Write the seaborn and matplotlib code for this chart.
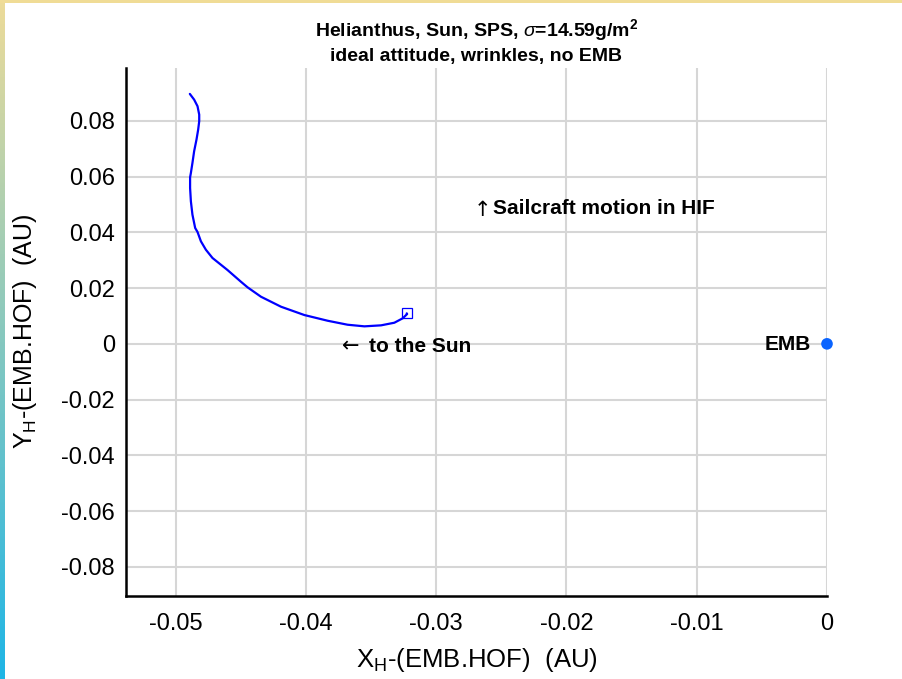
import numpy as np
import pandas as pd
import matplotlib
matplotlib.use("Agg")
import matplotlib.pyplot as plt
import seaborn as sns

# Sailcraft trajectory relative to the Earth-Moon barycentre (AU)
traj_x = [-0.04891, -0.04858, -0.04832, -0.04819, -0.04819, -0.04827, -0.04840,
          -0.04858, -0.04871, -0.04883, -0.04889, -0.04889, -0.04883, -0.04871,
          -0.04850, -0.04832, -0.04806, -0.04768, -0.04717, -0.04602, -0.04499,
          -0.04448, -0.04345, -0.04191, -0.04012, -0.03833, -0.03680, -0.03551,
          -0.03423, -0.03321, -0.03257, -0.03223]
traj_y = [0.08970, 0.08765, 0.08528, 0.08226, 0.07989, 0.07688, 0.07329,
          0.06912, 0.06492, 0.06133, 0.05978, 0.05594, 0.05117, 0.04636,
          0.04158, 0.04014, 0.03680, 0.03379, 0.03081, 0.02650, 0.02230,
          0.02029, 0.01691, 0.01332, 0.01034, 0.00829, 0.00686, 0.00628,
          0.00664, 0.00758, 0.00916, 0.01070]

# final position of the sailcraft
end_x = [-0.03226]
end_y = [0.01095]

emb_x = [0.0]
emb_y = [0.0]

x_ticks = [-0.05, -0.04, -0.03, -0.02, -0.01, 0.0]
x_ticklabels = ["-0.05", "-0.04", "-0.03", "-0.02", "-0.01", "0"]
y_ticks = [-0.08, -0.06, -0.04, -0.02, 0.0, 0.02, 0.04, 0.06, 0.08]
y_ticklabels = ["-0.08", "-0.06", "-0.04", "-0.02", "0", "0.02", "0.04", "0.06", "0.08"]

title_lines = [r"Helianthus, Sun, SPS, $\sigma$=14.59g/m$^\mathbf{2}$",
               "ideal attitude, wrinkles, no EMB"]

sns.set_theme(style="white")
plt.rcParams["font.family"] = ["Liberation Sans", "DejaVu Sans"]
plt.rcParams["axes.unicode_minus"] = False
plt.rcParams["mathtext.fontset"] = "custom"
plt.rcParams["mathtext.rm"] = "Liberation Sans"
plt.rcParams["mathtext.it"] = "Liberation Sans:italic"
plt.rcParams["mathtext.bf"] = "Liberation Sans:bold"
for key in ("text.color", "axes.labelcolor", "xtick.color", "ytick.color"):
    plt.rcParams[key] = "black"

fig = plt.figure(figsize=(9.02, 6.79), dpi=100)
fig.patch.set_facecolor("white")

# decorative frame: gradient strip on the left, thin band on top
strip = fig.add_axes([0, 0, 5 / 902, 1])
grad = np.linspace(0, 1, 256)[:, None]
c_top = np.array([0.93, 0.86, 0.60])
c_bot = np.array([0.12, 0.71, 0.90])
img = (c_top[None, None, :] * (1 - grad[..., None]) + c_bot[None, None, :] * grad[..., None])
strip.imshow(img, aspect="auto", extent=[0, 1, 0, 1])
strip.set_axis_off()
band = fig.add_axes([0, 1 - 3 / 679, 1, 3 / 679])
band.set_facecolor("#f0dc96")
band.set_xticks([]); band.set_yticks([])
for s in band.spines.values():
    s.set_visible(False)

ax = fig.add_axes([126 / 902, 83 / 679, (827 - 126) / 902, (596 - 68) / 679])

traj = pd.DataFrame({"x": traj_x + end_x, "y": traj_y + end_y})
sns.lineplot(data=traj, x="x", y="y", sort=False, estimator=None,
             color="#0000ff", linewidth=1.6, ax=ax, zorder=3)
for line in ax.lines:
    line.set_solid_joinstyle("round")
    line.set_solid_capstyle("round")
ax.plot(end_x, end_y, marker="s", markersize=7, markerfacecolor="none",
        markeredgecolor="#0000ff", markeredgewidth=0.9, linestyle="none", zorder=4)

emb = pd.DataFrame({"x": emb_x, "y": emb_y})
sns.scatterplot(data=emb, x="x", y="y", color="#0a64ff", s=70, edgecolor="none",
                ax=ax, zorder=5, clip_on=False)

ax.set_xlim(-0.05381, 0.0)
ax.set_ylim(-0.0905, 0.0990)
ax.set_xticks(x_ticks)
ax.set_xticklabels(x_ticklabels)
ax.set_yticks(y_ticks)
ax.set_yticklabels(y_ticklabels)

ax.grid(True, color="#d6d6d6", linewidth=1.5)
ax.set_axisbelow(True)
for side in ("top", "right"):
    ax.spines[side].set_visible(False)
for side in ("left", "bottom"):
    ax.spines[side].set_color("black")
    ax.spines[side].set_linewidth(1.8)
ax.tick_params(axis="both", direction="in", length=5, width=1.8, colors="black",
               labelsize=17, pad=8)
ax.tick_params(axis="x", pad=12)

ax.set_xlabel(r"X$_\mathrm{H}$-(EMB.HOF)  (AU)", fontsize=18.5, labelpad=8)
ax.set_ylabel(r"Y$_\mathrm{H}$-(EMB.HOF)  (AU)", fontsize=18, labelpad=16)

ax.set_title("\n".join(title_lines), fontsize=14, fontweight="bold", pad=5,
             linespacing=1.4)

# direction hints: thin arrow glyphs followed by bold captions
arrow_font = dict(family="DejaVu Sans", fontsize=15, fontweight="normal",
                  ha="left", va="center")
ax.text(-0.02715, 0.0482, "\u2191", **arrow_font)
ax.text(-0.02563, 0.0484, "Sailcraft motion in HIF", fontsize=15,
        fontweight="bold", ha="left", va="center")
ax.text(-0.03725, -0.0008, "\u2190", **arrow_font)
ax.text(-0.03513, -0.0010, "to the Sun", fontsize=15,
        fontweight="bold", ha="left", va="center")
ax.text(-0.0012, -0.0003, "EMB", fontsize=15, fontweight="bold", ha="right", va="center")

fig.savefig("out.png", dpi=100, facecolor=fig.get_facecolor())
